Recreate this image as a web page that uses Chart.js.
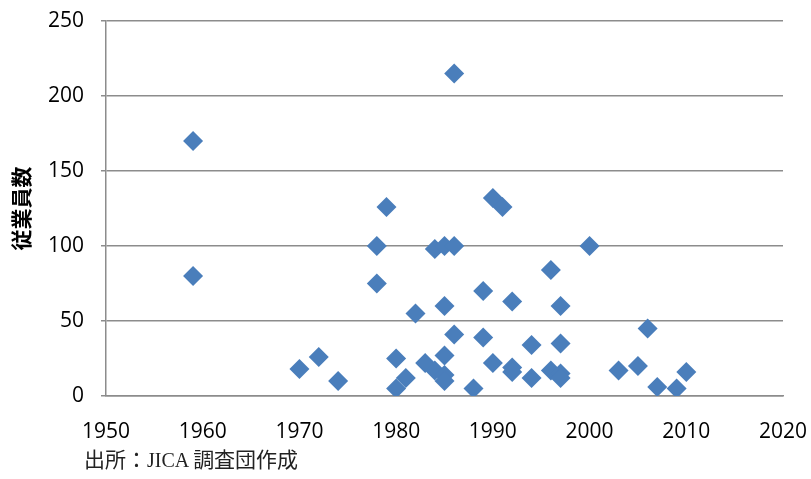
<!DOCTYPE html>
<html lang="ja">
<head>
<meta charset="utf-8">
<script src="https://cdn.jsdelivr.net/npm/chart.js@4"></script>
<style>
    body { margin: 0; background: #fff; }
    #wrap { position: relative; width: 811px; height: 479px; }
    #source {
        position: absolute; left: 84px; top: 443px;
        font-size: 21px; color: #222; white-space: nowrap;
        font-family: 'Noto Sans CJK JP', sans-serif;
    }
    #source .lat { font-family: 'Liberation Serif', serif; font-size: 20px; }
</style>
</head>
<body>
<div id="wrap">
    <canvas id="scatterChart"></canvas>
    <div id="source">出所：<span class="lat">JICA </span>調査団作成</div>
</div>
<script>
// founding year of each company and its number of employees
const years = [
    1959, 1959, 1970, 1972, 1974, 1978, 1978, 1979, 1980, 1980,
    1981, 1982, 1983, 1984, 1984, 1985, 1985, 1985, 1985, 1985,
    1986, 1986, 1986, 1988, 1989, 1989, 1990, 1990, 1991, 1992,
    1992, 1992, 1994, 1994, 1996, 1996, 1997, 1997, 1997, 1997,
    2000, 2003, 2005, 2006, 2007, 2009, 2010
];
const employees = [
    170, 80, 18, 26, 10, 100, 75, 126, 25, 5,
    12, 55, 22, 98, 17, 100, 60, 27, 14, 10,
    215, 100, 41, 5, 70, 39, 132, 22, 126, 63,
    19, 16, 34, 12, 84, 17, 60, 35, 15, 12,
    100, 17, 20, 45, 6, 5, 16
];
const xTicks = [1950, 1960, 1970, 1980, 1990, 2000, 2010, 2020];
const yTicks = [0, 50, 100, 150, 200, 250];
const yTitle = '従業員数';

const markColor = '#4A7EBB';
const gridColor = '#8c8c8c';

const points = years.map((y, i) => ({ x: y, y: employees[i] }));

new Chart(document.getElementById('scatterChart').getContext('2d'), {
    type: 'scatter',
    data: {
        datasets: [{
            data: points,
            pointStyle: 'rectRot',
            pointRadius: 10,
            pointHoverRadius: 10,
            backgroundColor: markColor,
            borderColor: markColor,
            borderWidth: 0
        }]
    },
    options: {
        responsive: true,
        maintainAspectRatio: false,
        animation: false,
        layout: { padding: { left: 0, top: 21, right: 28, bottom: 0 } },
        plugins: {
            legend: { display: false },
            tooltip: { enabled: false }
        },
        scales: {
            x: {
                type: 'linear',
                min: xTicks[0],
                max: xTicks[xTicks.length - 1],
                afterBuildTicks: s => { s.ticks = xTicks.map(v => ({ value: v })); },
                afterFit: s => { s.height = 83; s.paddingLeft = 0; s.paddingRight = 0; },
                grid: { display: false, drawTicks: false, tickLength: 0 },
                border: { display: true, color: gridColor, width: 1.5 },
                ticks: {
                    color: '#000',
                    padding: 23,
                    maxRotation: 0,
                    font: { family: "'Open Sans', sans-serif", size: 21 },
                    callback: v => String(v)
                }
            },
            y: {
                min: yTicks[0],
                max: yTicks[yTicks.length - 1],
                afterBuildTicks: s => { s.ticks = yTicks.map(v => ({ value: v })); },
                afterFit: s => { s.width = 106; s.paddingTop = 0; s.paddingBottom = 0; },
                grid: { color: gridColor, lineWidth: 1.5, tickLength: 5 },
                border: { display: true, color: gridColor, width: 1.5 },
                ticks: {
                    color: '#000',
                    padding: 17,
                    font: { family: "'Open Sans', sans-serif", size: 21 }
                },
                title: {
                    display: true,
                    text: yTitle,
                    color: '#000',
                    padding: { top: 8, bottom: 0 },
                    font: { family: "'Noto Sans CJK JP', sans-serif", size: 21, weight: 'bold' }
                }
            }
        }
    }
});
</script>
</body>
</html>
